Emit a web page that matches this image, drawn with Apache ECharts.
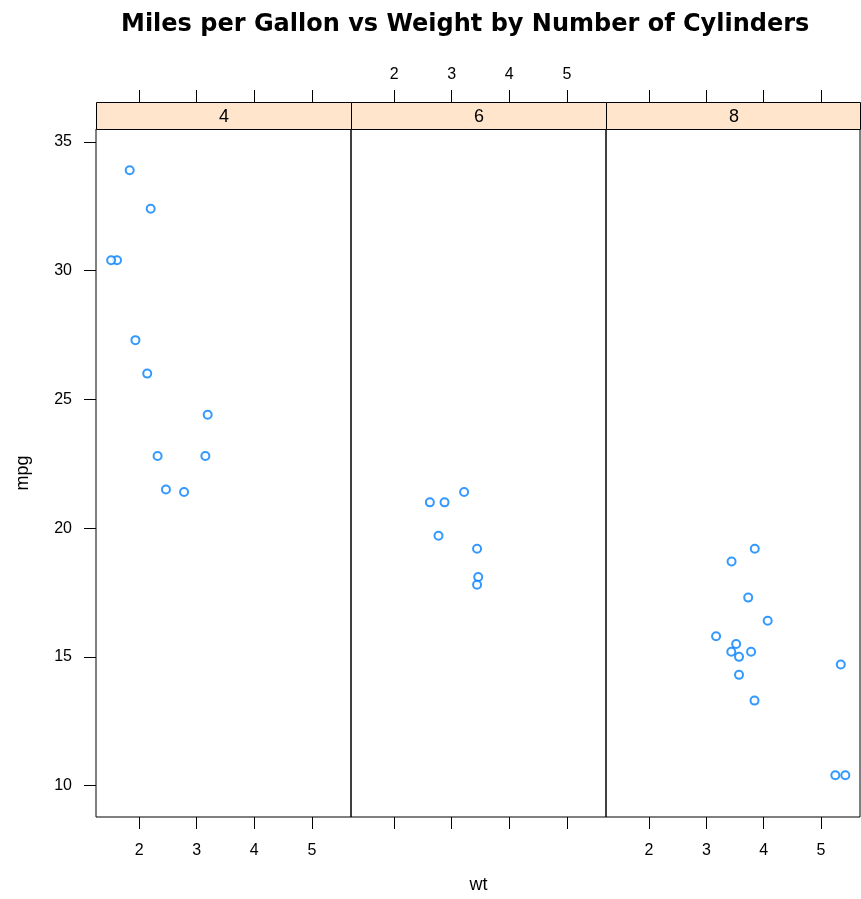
<!DOCTYPE html>
<html>
<head>
<meta charset="utf-8">
<script src="https://cdn.jsdelivr.net/npm/echarts@6/dist/echarts.min.js"></script>
<style>
  html, body { margin: 0; padding: 0; background: #fff; }
  #main { width: 861px; height: 899px; }
</style>
</head>
<body>
<div id="main"></div>
<script>
// mtcars: weight (1000 lbs) and mpg, split by number of cylinders
let panels = ['4', '6', '8'];
let wt4 = [2.32, 3.19, 3.15, 2.2, 1.615, 1.835, 2.465, 1.935, 2.14, 1.513, 2.78];
let mpg4 = [22.8, 24.4, 22.8, 32.4, 30.4, 33.9, 21.5, 27.3, 26.0, 30.4, 21.4];
let wt6 = [2.62, 2.875, 3.215, 3.46, 3.44, 3.44, 2.77];
let mpg6 = [21.0, 21.0, 21.4, 18.1, 19.2, 17.8, 19.7];
let wt8 = [3.44, 3.57, 4.07, 3.73, 3.78, 5.25, 5.424, 5.345, 3.52, 3.435, 3.84, 3.845, 3.17, 3.57];
let mpg8 = [18.7, 14.3, 16.4, 17.3, 15.2, 10.4, 10.4, 14.7, 15.5, 15.2, 13.3, 19.2, 15.8, 15.0];
let xTicks = [2, 3, 4, 5];
let yTicks = [10, 15, 20, 25, 30, 35];

let wts = [wt4, wt6, wt8];
let mpgs = [mpg4, mpg6, mpg8];

let chart = echarts.init(document.getElementById('main'));

let pLeft = 96, pW = 255, pTop = 129, pH = 688, stripH = 27;
let fnt = '"Liberation Sans", Arial, sans-serif';

let grids = [], xAxes = [], yAxes = [], series = [], strips = [];

for (let i = 0; i < 3; i++) {
  grids.push({
    left: pLeft + i * pW,
    top: pTop,
    width: i == 2 ? pW - 1 : pW,
    height: pH,
    show: true,
    borderColor: '#000',
    borderWidth: 1
  });

  // bottom axis
  xAxes.push({
    gridIndex: i,
    type: 'value',
    position: 'bottom',
    min: 1.25,
    max: 5.68,
    axisLine: { show: false },
    splitLine: { show: false },
    axisTick: { show: true, inside: false, length: 12, customValues: xTicks, lineStyle: { color: '#000', width: 1 } },
    axisLabel: { show: i != 1, customValues: xTicks, margin: 26, fontSize: 16, color: '#000', fontFamily: fnt },
    name: i == 1 ? 'wt' : '',
    nameLocation: 'middle',
    nameGap: 59,
    nameTextStyle: { fontSize: 18, color: '#000', fontFamily: fnt }
  });
  // top axis, above the strip
  xAxes.push({
    gridIndex: i,
    type: 'value',
    position: 'top',
    offset: stripH,
    min: 1.25,
    max: 5.68,
    axisLine: { show: false },
    splitLine: { show: false },
    axisTick: { show: true, inside: false, length: 12, customValues: xTicks, lineStyle: { color: '#000', width: 1 } },
    axisLabel: { show: i == 1, customValues: xTicks, margin: 19, fontSize: 16, color: '#000', fontFamily: fnt }
  });

  yAxes.push({
    gridIndex: i,
    type: 'value',
    min: 8.78,
    max: 35.5,
    axisLine: { show: false },
    splitLine: { show: false },
    axisTick: { show: i == 0, inside: false, length: 12, customValues: yTicks, lineStyle: { color: '#000', width: 1 } },
    axisLabel: { show: i == 0, customValues: yTicks, margin: 24, fontSize: 16, color: '#000', fontFamily: fnt },
    name: i == 0 ? 'mpg' : '',
    nameLocation: 'middle',
    nameRotate: 90,
    nameGap: 64,
    nameTextStyle: { fontSize: 18, color: '#000', fontFamily: fnt }
  });

  series.push({
    type: 'scatter',
    xAxisIndex: 2 * i,
    yAxisIndex: i,
    symbol: 'emptyCircle',
    symbolSize: 8,
    itemStyle: { color: '#0080ff', borderColor: '#0080ff', borderWidth: 1.5 },
    data: wts[i].map((w, k) => [w, mpgs[i][k]])
  });

  strips.push({
    type: 'group',
    left: pLeft + i * pW,
    top: pTop - stripH,
    children: [{
      type: 'rect',
      shape: { x: 0, y: 0, width: i == 2 ? pW - 1 : pW, height: stripH },
      style: { fill: '#ffe5cc', stroke: '#000', lineWidth: 1 }
    }, {
      type: 'text',
      x: pW / 2,
      y: stripH / 2 + 1,
      style: { text: panels[i], fill: '#000', font: '18px ' + fnt, align: 'center', verticalAlign: 'middle' }
    }]
  });
}

chart.setOption({
  animation: false,
  backgroundColor: '#fff',
  title: {
    text: 'Miles per Gallon vs Weight by Number of Cylinders',
    left: 116,
    top: 8,
    textStyle: { fontSize: 24, fontWeight: 'bold', color: '#000', fontFamily: '"DejaVu Sans", sans-serif' }
  },
  grid: grids,
  xAxis: xAxes,
  yAxis: yAxes,
  series: series,
  graphic: strips
});
</script>
</body>
</html>
